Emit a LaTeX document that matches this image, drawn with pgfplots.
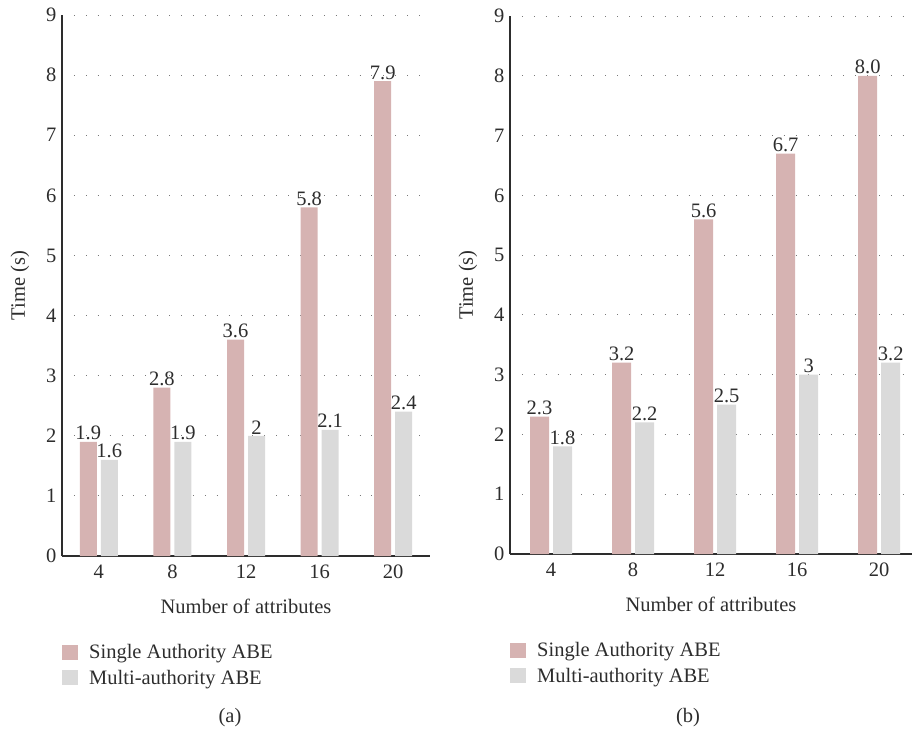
\documentclass[border=0pt]{standalone}
\usepackage{pgfplots}
\pgfplotsset{compat=1.18}
\usepackage{fontspec}
\setmainfont{Liberation Serif}

\definecolor{singlecol}{RGB}{214,179,178}
\definecolor{multicol}{RGB}{218,218,218}
\definecolor{txtcol}{RGB}{45,45,45}
\definecolor{gridcol}{RGB}{120,120,120}

\newcommand{\figfont}{\fontsize{20.5}{24}\selectfont}

\pgfplotsset{
  abeaxis/.style 2 args={
    scale only axis,
    ybar=4pt,
    bar width=#1,
    ymin=0, ymax=9,
    ytick={0,1,...,9},
    xmin=-0.5, xmax=#2,
    xtick={0,1,2,3,4},
    xticklabels={4,8,12,16,20},
    axis x line*=bottom,
    axis y line*=left,
    axis line style={-, line width=1.1pt, color=txtcol},
    major tick length=0pt,
    ymajorgrids,
    grid style={gridcol, line width=0.9pt, dash pattern=on 0.9pt off 11pt},
    tick label style={font=\figfont, text=txtcol},
    /pgf/number format/assume math mode=true,
    xticklabel style={yshift=-5pt},
    yticklabel style={xshift=-2pt},
    label style={font=\figfont, text=txtcol},
    xlabel={Number of attributes},
    ylabel={Time (s)},
    xlabel style={yshift=-14pt},
    ylabel style={yshift=10pt},
    point meta=explicit symbolic,
    nodes near coords,
    nodes near coords style={font=\figfont, text=txtcol, inner sep=1.5pt},
    legend cell align=left,
    legend style={draw=none, fill=none, inner sep=0pt, row sep=6pt,
      column sep=9pt,
      font=\figfont, text=txtcol,
      at={(0,0)}, anchor=north west, yshift=-86pt},
    legend image code/.code={\fill[##1] (0pt,-7.5pt) rectangle (16pt,7.5pt);},
  }
}

\begin{document}
\begin{tikzpicture}
\path[use as bounding box] (0pt,0pt) rectangle (912pt,-733pt);

% (a)
\begin{axis}[abeaxis={17pt}{4.5},
  at={(62pt,-556pt)}, anchor=south west,
  width=368pt, height=541pt]
\addplot[draw=none, fill=singlecol] coordinates
  {(0,1.9) [1.9] (1,2.8) [2.8] (2,3.6) [3.6] (3,5.8) [5.8] (4,7.9) [7.9]};
\addplot[draw=none, fill=multicol] coordinates
  {(0,1.6) [1.6] (1,1.9) [1.9] (2,2) [2] (3,2.1) [2.1] (4,2.4) [2.4]};
\legend{Single Authority ABE, Multi-authority ABE}
\end{axis}

% (b)
\begin{axis}[abeaxis={19pt}{4.4},
  at={(510pt,-554pt)}, anchor=south west,
  width=402pt, height=538pt]
\addplot[draw=none, fill=singlecol] coordinates
  {(0,2.3) [2.3] (1,3.2) [3.2] (2,5.6) [5.6] (3,6.7) [6.7] (4,8.0) [8.0]};
\addplot[draw=none, fill=multicol] coordinates
  {(0,1.8) [1.8] (1,2.2) [2.2] (2,2.5) [2.5] (3,3) [3] (4,3.2) [3.2]};
\legend{Single Authority ABE, Multi-authority ABE}
\end{axis}

\node[font=\figfont, text=txtcol] at (230pt,-718pt) {(a)};
\node[font=\figfont, text=txtcol] at (688pt,-718pt) {(b)};
\end{tikzpicture}
\end{document}
